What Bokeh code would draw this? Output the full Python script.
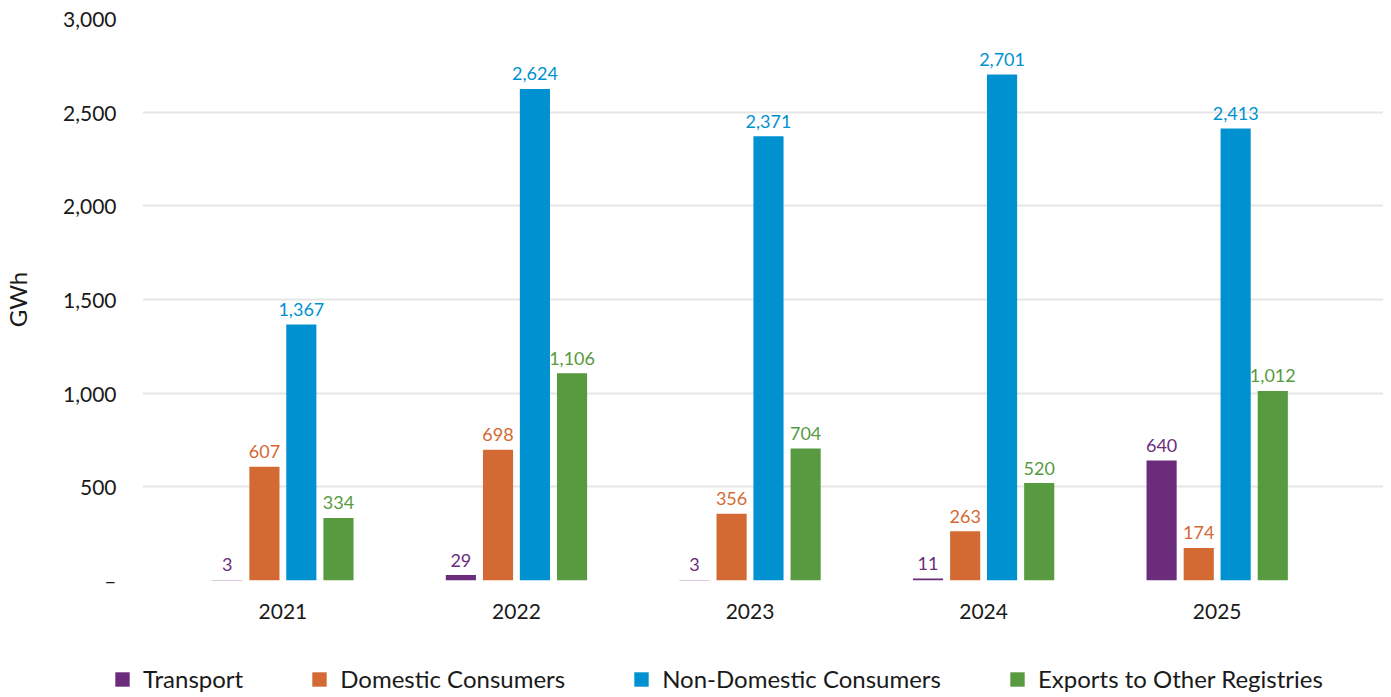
from bokeh.plotting import figure
from bokeh.models import ColumnDataSource, Range1d, FixedTicker, Legend, LegendItem
from bokeh.transform import dodge
from bokeh.core.properties import value
from bokeh.embed import file_html
from bokeh.resources import INLINE

years = ["2021", "2022", "2023", "2024", "2025"]
transport = [3, 29, 3, 11, 640]
domestic = [607, 698, 356, 263, 174]
non_domestic = [1367, 2624, 2371, 2701, 2413]
exports = [334, 1106, 704, 520, 1012]

series = [
    ("Transport", transport, "#6B2D7B", -0.238),
    ("Domestic Consumers", domestic, "#D36A34", -0.079),
    ("Non-Domestic Consumers", non_domestic, "#0092D0", 0.079),
    ("Exports to Other Registries", exports, "#579A40", 0.238),
]

FONT = "Lato"

idx = list(range(len(years)))
src = {"x": idx}
for name, vals, _, _ in series:
    src[name] = vals
    src[name + "_lbl"] = [f"{v:,}" for v in vals]
source = ColumnDataSource(src)

p = figure(width=1383, height=630, output_backend="svg", toolbar_location=None,
           x_range=Range1d(-0.601, 4.712), y_range=Range1d(0, 3000),
           min_border_left=141, min_border_right=0, min_border_top=18, min_border_bottom=50)
p.outline_line_color = None
p.background_fill_color = "white"

for name, vals, color, off in series:
    p.vbar(x=dodge("x", off), top=name, width=0.129, source=source,
           fill_color=color, line_color=None)
    p.text(x=dodge("x", off), y=name, text=name + "_lbl", source=source,
           text_color=color, text_font=value(FONT), text_font_size="18px",
           text_align="center", text_baseline="alphabetic", y_offset=-15)

# axes
p.xaxis.ticker = FixedTicker(ticks=idx)
p.xaxis.major_label_overrides = {i: y for i, y in zip(idx, years)}
p.xaxis.axis_line_color = None
p.xaxis.major_tick_line_color = None
p.xaxis.major_tick_out = 0
p.xaxis.minor_tick_line_color = None
p.xaxis.major_label_text_font = FONT
p.xaxis.major_label_text_font_size = "21px"
p.xaxis.major_label_text_color = "#1a1a1a"
p.xaxis.major_label_standoff = 23

p.yaxis.ticker = FixedTicker(ticks=[0, 500, 1000, 1500, 2000, 2500, 3000])
p.yaxis.major_label_overrides = {0: "–", 500: "500", 1000: "1,000", 1500: "1,500",
                                 2000: "2,000", 2500: "2,500", 3000: "3,000"}
p.yaxis.axis_line_color = None
p.yaxis.major_tick_line_color = None
p.yaxis.major_tick_out = 0
p.yaxis.minor_tick_line_color = None
p.yaxis.major_label_text_font = FONT
p.yaxis.major_label_text_font_size = "21px"
p.yaxis.major_label_text_color = "#1a1a1a"
p.yaxis.major_label_standoff = 26
p.yaxis.axis_label = "GWh"
p.yaxis.axis_label_text_font = FONT
p.yaxis.axis_label_text_font_size = "24px"
p.yaxis.axis_label_text_font_style = "normal"
p.yaxis.axis_label_text_color = "#1a1a1a"
p.yaxis.axis_label_standoff = 28

p.xgrid.grid_line_color = None
p.ygrid.grid_line_color = "#E6E6E6"
p.ygrid.grid_line_width = 2

# legend strip below the chart (separate root, so its frame starts at the left edge)
lg = figure(width=1383, height=66, output_backend="svg", toolbar_location=None,
            x_range=Range1d(-0.601, 4.712), y_range=Range1d(5000, 6000),
            x_axis_location=None, y_axis_location=None,
            min_border_left=0, min_border_right=0, min_border_top=0, min_border_bottom=0)
lg.outline_line_color = None
lg.xgrid.grid_line_color = None
lg.ygrid.grid_line_color = None
items = []
for name, vals, color, off in series:
    r = lg.vbar(x=dodge("x", off), top=name, width=0.129, source=source,
                fill_color=color, line_color=None)
    items.append(LegendItem(label=name, renderers=[r]))

legend = Legend(items=items, orientation="horizontal", location=(113, 3),
                glyph_width=18, glyph_height=18, label_standoff=12, spacing=67,
                padding=0, margin=0, border_line_color=None, background_fill_alpha=0,
                label_text_font=FONT, label_text_font_size="24px", label_text_color="#1a1a1a")
lg.add_layout(legend, "center")

open("out.html", "w").write(file_html([p, lg], INLINE))
